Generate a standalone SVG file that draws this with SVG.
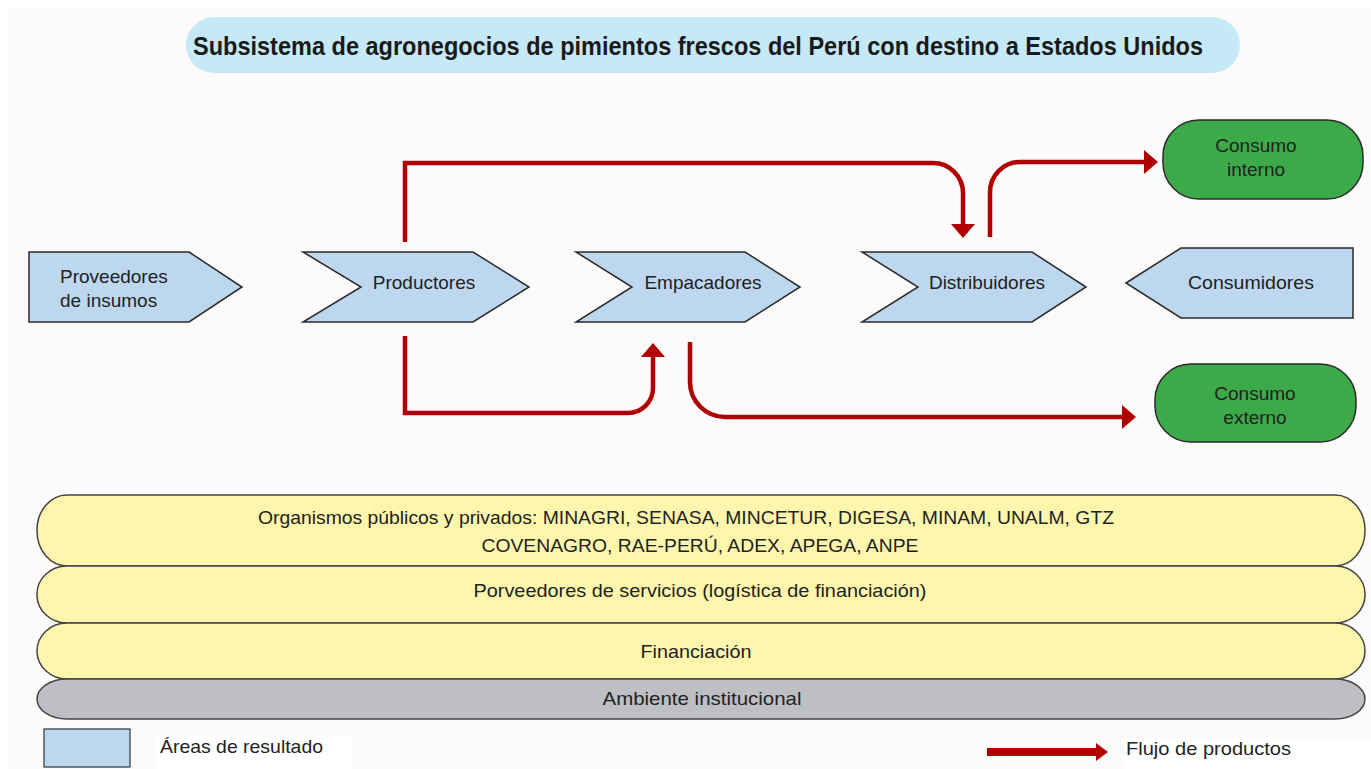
<svg xmlns="http://www.w3.org/2000/svg" width="1371" height="769" viewBox="0 0 1371 769">
<defs>
<style>
.t{font-family:"Liberation Sans",Arial,sans-serif;font-size:19px;fill:#222;}
.c{text-anchor:middle;}
.area{fill:#BDD7EE;stroke:#2a2a2a;stroke-width:1.5;stroke-linejoin:miter;}
.green{fill:#3DAA4A;stroke:#2a2a2a;stroke-width:1.5;}
.bar{fill:#FFF6AE;stroke:#444;stroke-width:1.5;}
.flow{fill:none;stroke:#B00000;stroke-width:4.5;}
</style>
<marker id="ah" markerUnits="userSpaceOnUse" markerWidth="15" markerHeight="26" refX="0" refY="13" orient="auto">
<path d="M0,1 L14,13 L0,25 Z" fill="#B00000"/>
</marker>
<marker id="ahL" markerUnits="userSpaceOnUse" markerWidth="14" markerHeight="22" refX="0" refY="11" orient="auto">
<path d="M0,2 L12,11 L0,20 Z" fill="#B00000"/>
</marker>
</defs>
<rect x="0" y="0" width="1371" height="769" fill="#FFFFFF"/>
<rect x="8" y="7" width="1363" height="762" fill="#FCFAFB"/>

<g id="title">
<rect x="186" y="17" width="1054" height="56" rx="28" fill="#C6E9F8"/>
<text x="698" y="55" class="c" font-family="'Liberation Sans',Arial,sans-serif" font-weight="bold" font-size="25" fill="#1a1a1a" textLength="1010" lengthAdjust="spacingAndGlyphs">Subsistema de agronegocios de pimientos frescos del Perú con destino a Estados Unidos</text>
</g>

<g id="connectors">
<path class="flow" d="M405,242 V163 H933 A30,30 0 0 1 963,193 V224" marker-end="url(#ah)"/>
<path class="flow" d="M990,237 V192 A30,30 0 0 1 1020,162 H1144" marker-end="url(#ah)"/>
<path class="flow" d="M405,336 V413 H628 A25,25 0 0 0 653,388 V357" marker-end="url(#ah)"/>
<path class="flow" d="M690,342 V382 A35,35 0 0 0 725,417 H1122" marker-end="url(#ah)"/>
</g>

<g id="proveedores">
<polygon class="area" points="29,252 189,252 242,287 189,322 29,322"/>
<text class="t" x="60" y="283">Proveedores</text>
<text class="t" x="60" y="307">de insumos</text>
</g>
<g id="productores">
<polygon class="area" points="303,252 473,252 529,287 473,322 303,322 361,287"/>
<text class="t c" x="424" y="289">Productores</text>
</g>
<g id="empacadores">
<polygon class="area" points="576,252 745,252 800,287 745,322 576,322 632,287"/>
<text class="t c" x="703" y="289">Empacadores</text>
</g>
<g id="distribuidores">
<polygon class="area" points="862,252 1032,252 1086,287 1032,322 862,322 918,287"/>
<text class="t c" x="987" y="289">Distribuidores</text>
</g>
<g id="consumidores">
<polygon class="area" points="1126,283 1181,248 1353,248 1353,318 1181,318"/>
<text class="t c" x="1251" y="289" textLength="126" lengthAdjust="spacingAndGlyphs">Consumidores</text>
</g>
<g id="consumo-interno">
<rect class="green" x="1163" y="120" width="200" height="79" rx="36"/>
<text class="t c" x="1256" y="152">Consumo</text>
<text class="t c" x="1256" y="176">interno</text>
</g>
<g id="consumo-externo">
<rect class="green" x="1155" y="364" width="201" height="78" rx="36"/>
<text class="t c" x="1255" y="400">Consumo</text>
<text class="t c" x="1255" y="424">externo</text>
</g>

<g id="organismos">
<rect class="bar" x="37" y="495" width="1328" height="71" rx="30" ry="35"/>
<text class="t c" x="686" y="524" textLength="856" lengthAdjust="spacingAndGlyphs">Organismos públicos y privados: MINAGRI, SENASA, MINCETUR, DIGESA, MINAM, UNALM, GTZ</text>
<text class="t c" x="700" y="552" textLength="437" lengthAdjust="spacingAndGlyphs">COVENAGRO, RAE-PERÚ, ADEX, APEGA, ANPE</text>
</g>
<g id="servicios">
<rect class="bar" x="37" y="566" width="1328" height="57" rx="30" ry="28"/>
<text class="t c" x="700" y="597" textLength="453" lengthAdjust="spacingAndGlyphs">Porveedores de servicios (logística de financiación)</text>
</g>
<g id="financiacion">
<rect class="bar" x="37" y="623" width="1328" height="56" rx="30" ry="28"/>
<text class="t c" x="696" y="658" textLength="111" lengthAdjust="spacingAndGlyphs">Financiación</text>
</g>
<g id="ambiente">
<rect x="37" y="679" width="1328" height="40" rx="30" ry="20" fill="#BEBFC3" stroke="#444" stroke-width="1.5"/>
<text class="t c" x="702" y="705" textLength="199" lengthAdjust="spacingAndGlyphs">Ambiente institucional</text>
</g>

<g id="legend">
<rect x="44" y="729" width="86" height="38" fill="#BDD7EE" stroke="#333" stroke-width="1.2"/>
<rect x="157" y="735" width="195" height="34" fill="#FFFFFF"/>
<text class="t" x="160" y="753" textLength="163" lengthAdjust="spacingAndGlyphs">Áreas de resultado</text>
<path d="M987,752 H1096" stroke="#B00000" stroke-width="8" fill="none" marker-end="url(#ahL)"/>
<rect x="1124" y="738" width="247" height="31" fill="#FFFFFF"/>
<text class="t" x="1126" y="755" font-size="20" textLength="165" lengthAdjust="spacingAndGlyphs">Flujo de productos</text>
</g>
</svg>
